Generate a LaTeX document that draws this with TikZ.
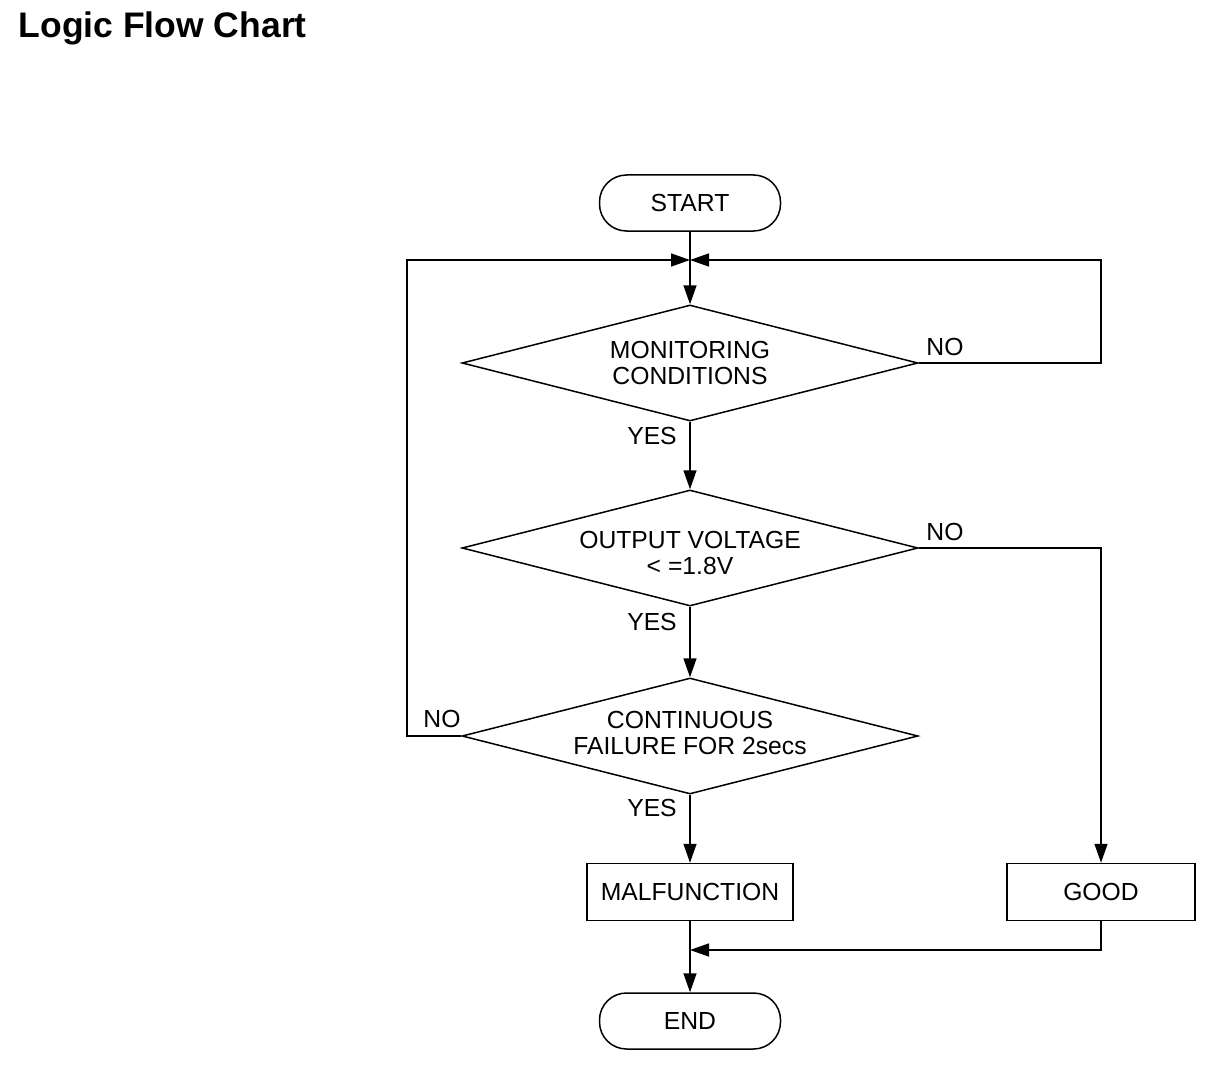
\documentclass[tikz,border=0pt]{standalone}
\usepackage{fontspec}
\setmainfont{Liberation Sans}
\usetikzlibrary{arrows.meta,shapes.geometric}

\begin{document}
\begin{tikzpicture}[x=1pt,y=-1pt,line width=1.5pt,
  >={Triangle[length=19pt,width=13pt]},
  every node/.style={font=\fontsize{24.7}{26}\selectfont},
  every label/.style={align=center},
  term/.style={draw,rounded corners=27pt,minimum width=181pt,minimum height=56pt},
  check/.style={draw,diamond,aspect=3.9,inner sep=0pt,minimum width=456pt,minimum height=116pt},
  result/.style={draw,rectangle,minimum height=57pt}]
  \useasboundingbox (0,0) rectangle (1216,1070);
  \node[anchor=base west,inner sep=0pt,font=\fontsize{35.5}{40}\selectfont\bfseries] (title) at (18,38) {Logic Flow Chart};
  \node[term] (start) at (690,203) {START};
  \node[check,label={center:MONITORING\\CONDITIONS}] (d1) at (690,363) {};
  \node[check,label={[yshift=-5pt]center:OUTPUT VOLTAGE\\< =1.8V}] (d2) at (690,548) {};
  \node[check,label={[yshift=3.5pt]center:CONTINUOUS\\FAILURE FOR 2secs}] (d3) at (690,736) {};
  \node[result,minimum width=206pt] (malf) at (690,892) {MALFUNCTION};
  \node[result,minimum width=188pt] (good) at (1101,892) {GOOD};
  \node[term] (end) at (690,1021) {END};
  \coordinate (jn) at (690,260);
  \coordinate (rc) at (1101,260);
  \coordinate (lc) at (407,260);
  \coordinate (mg) at (690,950);
  % main column
  \draw[->] (start) -- (d1);
  \draw[->] (d1) -- (d2);
  \draw[->] (d2) -- (d3);
  \draw[->] (d3) -- (malf);
  \draw[->] (malf) -- (end);
  % loops back
  \draw[->] (d1.east) -| (rc) -- (jn);
  \draw[->] (d3.west) -| (lc) -- (jn);
  \draw[->] (d2.east) -| (good);
  \draw[->] (good) |- (mg);
  % labels
  \node (no1) at (945,347) {NO};
  \node (no2) at (945,532) {NO};
  \node (no3) at (442,719) {NO};
  \node (yes1) at (652,436) {YES};
  \node (yes2) at (652,622) {YES};
  \node (yes3) at (652,808) {YES};
\end{tikzpicture}
\end{document}
